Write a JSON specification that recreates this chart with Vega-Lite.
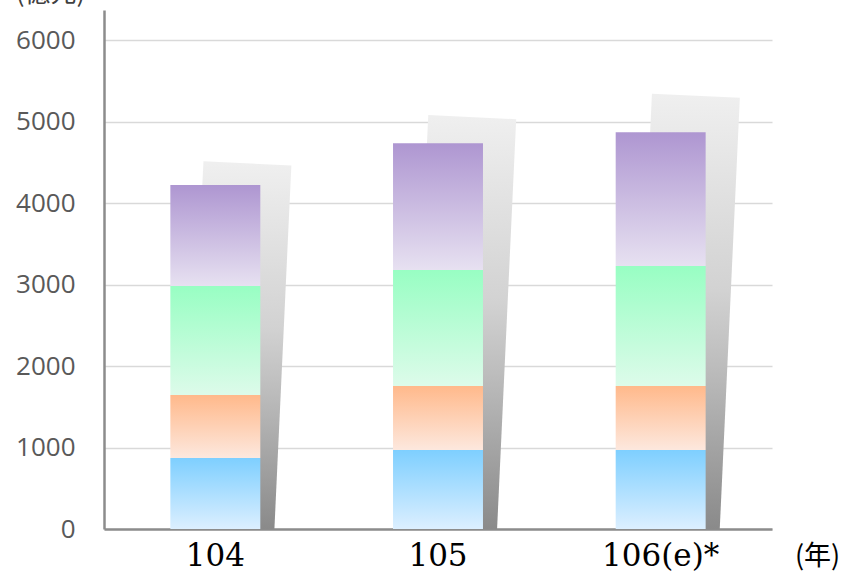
{
  "$schema": "https://vega.github.io/schema/vega-lite/v6.json",
  "width": 668,
  "height": 519,
  "autosize": {"type": "none"},
  "padding": {"left": 104, "top": 10, "right": 76, "bottom": 55},
  "background": "white",
  "config": {"view": {"stroke": null}},
  "datasets": {
    "segments": [
      {"year": "104", "segment": "1", "value": 871},
      {"year": "104", "segment": "2", "value": 773},
      {"year": "104", "segment": "3", "value": 1338},
      {"year": "104", "segment": "4", "value": 1239},
      {"year": "105", "segment": "1", "value": 969},
      {"year": "105", "segment": "2", "value": 786},
      {"year": "105", "segment": "3", "value": 1423},
      {"year": "105", "segment": "4", "value": 1558},
      {"year": "106(e)*", "segment": "1", "value": 969},
      {"year": "106(e)*", "segment": "2", "value": 786},
      {"year": "106(e)*", "segment": "3", "value": 1472},
      {"year": "106(e)*", "segment": "4", "value": 1644}
    ],
    "shadow": [
      {"year": "104", "value": 4487},
      {"year": "104", "value": 0},
      {"year": "105", "value": 5055},
      {"year": "105", "value": 0},
      {"year": "106(e)*", "value": 5317},
      {"year": "106(e)*", "value": 0}
    ]
  },
  "resolve": {"scale": {"xOffset": "independent"}},
  "encoding": {
    "x": {
      "field": "year",
      "type": "nominal",
      "sort": ["104", "105", "106(e)*"],
      "scale": {"paddingInner": 0.596, "paddingOuter": 0.298},
      "axis": {
        "title": "(年)",
        "titleX": 713,
        "titleY": 27,
        "titleAlign": "center",
        "titleBaseline": "middle",
        "titleFont": "Noto Sans CJK TC",
        "titleFontSize": 27,
        "titleFontWeight": "normal",
        "titleColor": "#000000",
        "labelAngle": 0,
        "labelFont": "DejaVu Serif",
        "labelFontSize": 31,
        "labelColor": "#000000",
        "labelPadding": 12,
        "ticks": false,
        "grid": false,
        "domainColor": "#8c8c8c",
        "domainWidth": 2.5
      }
    },
    "y": {
      "field": "value",
      "type": "quantitative",
      "scale": {"domain": [0, 6370], "nice": false, "zero": true},
      "axis": {
        "values": [0, 1000, 2000, 3000, 4000, 5000, 6000],
        "format": "d",
        "ticks": false,
        "labelFont": "Open Sans",
        "labelFontSize": 26,
        "labelColor": "#595959",
        "labelPadding": 29,
        "domainColor": "#8c8c8c",
        "domainWidth": 2.5,
        "gridColor": "#d9d9d9",
        "gridWidth": 1.5,
        "title": "(億元)",
        "titleAngle": 0,
        "titleX": -54,
        "titleY": -9,
        "titleAlign": "center",
        "titleBaseline": "alphabetic",
        "titleFont": "Noto Sans CJK TC",
        "titleFontSize": 26,
        "titleFontWeight": "normal",
        "titleColor": "#404040"
      }
    }
  },
  "layer": [
    {
      "data": {"name": "shadow"},
      "mark": {
        "type": "line",
        "strokeWidth": 88,
        "strokeCap": "butt",
        "clip": true,
        "color": {
          "gradient": "linear",
          "x1": 0, "y1": 0, "x2": 0, "y2": 1,
          "stops": [
            {"offset": 0, "color": "#efefef"},
            {"offset": 0.45, "color": "#d2d2d2"},
            {"offset": 0.62, "color": "#bdbdbd"},
            {"offset": 1, "color": "#8a8a8a"}
          ]
        }
      },
      "encoding": {
        "xOffset": {"field": "value", "type": "quantitative", "scale": {"domain": [0, 5000], "range": [60, 79]}},
        "detail": {"field": "year"},
        "order": {"field": "value", "type": "quantitative"}
      }
    },
    {
      "data": {"name": "segments"},
      "mark": {"type": "bar", "width": {"band": 1}},
      "encoding": {
        "detail": {"field": "segment"},
        "order": {"field": "segment", "type": "ordinal"},
        "color": {
          "condition": [
            {"test": "datum.segment === '1'", "value": {"gradient": "linear", "x1": 0, "y1": 0, "x2": 0, "y2": 1, "stops": [{"offset": 0, "color": "#7ecfff"}, {"offset": 1, "color": "#dcefff"}]}},
            {"test": "datum.segment === '2'", "value": {"gradient": "linear", "x1": 0, "y1": 0, "x2": 0, "y2": 1, "stops": [{"offset": 0, "color": "#ffb98b"}, {"offset": 1, "color": "#fde8de"}]}},
            {"test": "datum.segment === '3'", "value": {"gradient": "linear", "x1": 0, "y1": 0, "x2": 0, "y2": 1, "stops": [{"offset": 0, "color": "#98fec3"}, {"offset": 1, "color": "#ddfbea"}]}}
          ],
          "value": {"gradient": "linear", "x1": 0, "y1": 0, "x2": 0, "y2": 1, "stops": [{"offset": 0, "color": "#ae96d1"}, {"offset": 1, "color": "#e7e1f1"}]}
        }
      }
    }
  ]
}
